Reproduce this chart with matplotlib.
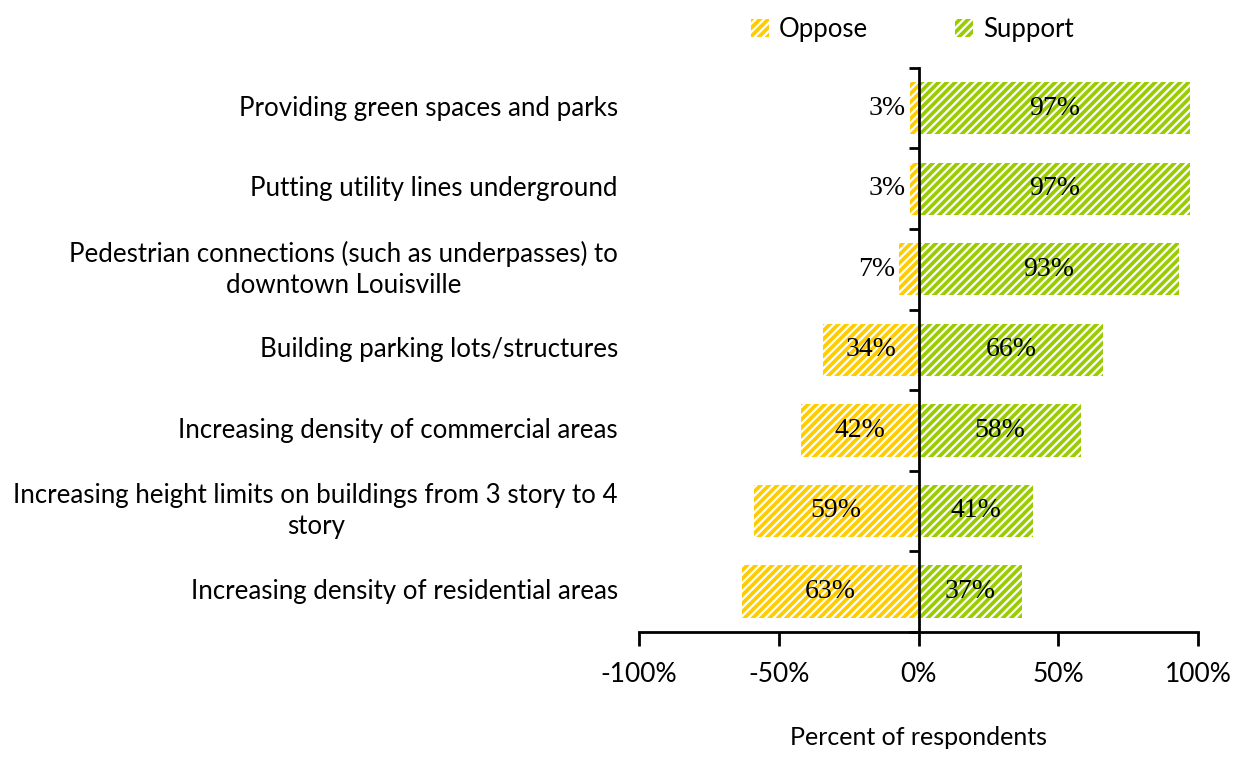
import numpy as np
import matplotlib
matplotlib.use('Agg')
import matplotlib.pyplot as plt
from matplotlib.patches import Patch

plt.rcParams['font.family'] = ['Lato', 'DejaVu Sans']
plt.rcParams['hatch.linewidth'] = 1.6

categories = [
    'Providing green spaces and parks',
    'Putting utility lines underground',
    'Pedestrian connections (such as underpasses) to\ndowntown Louisville',
    'Building parking lots/structures',
    'Increasing density of commercial areas',
    'Increasing height limits on buildings from 3 story to 4\nstory',
    'Increasing density of residential areas',
]
oppose = [3, 3, 7, 34, 42, 59, 63]
support = [97, 97, 93, 66, 58, 41, 37]

c_oppose = '#FFCC00'
c_support = '#99CC00'

fig = plt.figure(figsize=(12.43, 7.8), dpi=100)
ax = fig.add_axes([0.514, 0.19, 0.45, 0.723])

y = np.arange(len(categories))
h = 0.65
ax.barh(y, [-v for v in oppose], height=h, color=c_oppose, edgecolor='white',
        hatch='////', linewidth=0, label='Oppose')
ax.barh(y, support, height=h, color=c_support, edgecolor='white',
        hatch='////', linewidth=0, label='Support')

lab_font = dict(family=['Liberation Serif', 'DejaVu Serif'], fontsize=20, va='center')
for i in range(len(categories)):
    if oppose[i] < 10:
        ax.text(-oppose[i] - 1.5, y[i], f'{oppose[i]}%', ha='right', **lab_font)
    else:
        ax.text(-oppose[i] / 2, y[i], f'{oppose[i]}%', ha='center', **lab_font)
    ax.text(support[i] / 2, y[i], f'{support[i]}%', ha='center', **lab_font)

ax.set_xlim(-100, 100)
ax.set_ylim(len(categories) - 0.5, -0.5)
ax.set_xticks([-100, -50, 0, 50, 100])
ax.set_xticklabels(['-100%', '-50%', '0%', '50%', '100%'], fontsize=19)
ax.tick_params(axis='x', length=10, width=2, pad=12)

# category labels sit at the left edge of the plot area
ax.set_yticks(np.arange(len(categories) + 1) - 0.5)
ax.set_yticklabels([])
ax.tick_params(axis='y', length=7, width=2)
for i, c in enumerate(categories):
    ax.text(-107.5, y[i], c, ha='right', va='center', fontsize=18.6,
            linespacing=1.3, multialignment='center')

for s in ['top', 'right']:
    ax.spines[s].set_visible(False)
ax.spines['bottom'].set_linewidth(2)
ax.spines['left'].set_position(('data', 0))
ax.spines['left'].set_linewidth(2)

ax.set_xlabel('Percent of respondents', fontsize=18, labelpad=28)

handles = [Patch(facecolor=c_oppose, edgecolor='white', hatch='////', linewidth=0),
           Patch(facecolor=c_support, edgecolor='white', hatch='////', linewidth=0)]
fig.legend(handles, ['Oppose', 'Support'], loc='upper center',
           bbox_to_anchor=(0.734, 1.008), ncol=2, frameon=False, fontsize=18.5,
           handlelength=0.7, handleheight=0.7, columnspacing=3.4, handletextpad=0.4)

plt.savefig('out.png', dpi=100)
